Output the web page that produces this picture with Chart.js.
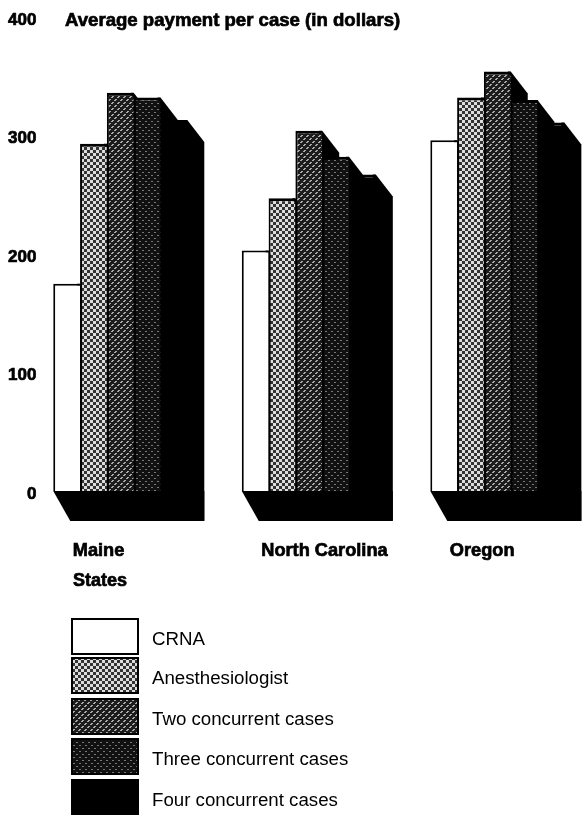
<!DOCTYPE html>
<html>
<head>
<meta charset="utf-8">
<style>
  html, body { margin: 0; padding: 0; background: #fff; overflow: hidden; width: 585px; height: 815px; }
  canvas { display: block; }
</style>
<script src="https://cdn.jsdelivr.net/npm/chart.js@4"></script>
</head>
<body>
<canvas id="chart" width="603" height="815"></canvas>
<script>
const states = ['Maine', 'North Carolina', 'Oregon'];
const crna = [175, 203, 296];
const anesthesiologist = [293, 247, 332];
const twoCases = [336, 304, 354];
const threeCases = [332, 282, 330];
const fourCases = [313, 267, 311];
const yTicks = [0, 100, 200, 300, 400];
const chartTitle = 'Average payment per case (in dollars)';
const xTitle = 'States';

// halftone fills, as in the printed figure
function pattern(size, paint) {
    const c = document.createElement('canvas');
    c.width = c.height = size;
    const g = c.getContext('2d');
    paint(g);
    return g.createPattern(c, 'repeat');
}
const lightDots = pattern(6, g => {
    g.fillStyle = '#333';
    g.fillRect(0, 0, 6, 6);
    g.fillStyle = '#ddd';
    g.fillRect(0, 0, 3, 3);
    g.fillRect(3, 3, 3, 3);
});
const hatch = pattern(6, g => {
    g.fillStyle = '#1c1c1c';
    g.fillRect(0, 0, 6, 6);
    g.fillStyle = '#aaa';
    g.fillRect(4, 0, 2, 1);
    g.fillRect(3, 1, 2, 1);
    g.fillRect(1, 3, 2, 1);
    g.fillRect(0, 4, 2, 1);
});
const darkDots = pattern(6, g => {
    g.fillStyle = '#111';
    g.fillRect(0, 0, 6, 6);
    g.fillStyle = '#777';
    g.fillRect(1, 1, 2, 1);
    g.fillRect(4, 4, 2, 1);
});

// sides and floor of the fake 3D bars, taken from the bar elements
const depth3d = {
    id: 'depth3d',
    beforeDatasetsDraw(chart) {
        const ctx = chart.ctx;
        ctx.save();
        ctx.fillStyle = '#000';
        const metas = chart.data.datasets.map((d, i) => chart.getDatasetMeta(i));
        metas.forEach(meta => meta.data.forEach(bar => {
            const r = bar.x + bar.width / 2;
            ctx.beginPath();
            ctx.moveTo(r - 3, bar.y);
            ctx.lineTo(r, bar.y);
            ctx.lineTo(r + 17, bar.y + 22);
            ctx.lineTo(r + 17, bar.base + 30);
            ctx.lineTo(r - 3, bar.base);
            ctx.fill();
        }));
        states.forEach((s, j) => {
            const a = metas[0].data[j];
            const b = metas[metas.length - 1].data[j];
            const l = a.x - a.width / 2;
            const r = b.x + b.width / 2;
            ctx.beginPath();
            ctx.moveTo(l, a.base);
            ctx.lineTo(l + 17, a.base + 30);
            ctx.lineTo(r + 17, a.base + 30);
            ctx.lineTo(r + 17, a.base);
            ctx.fill();
        });
        ctx.restore();
    }
};

// heading, x title and the stacked legend
const notes = {
    id: 'notes',
    afterDraw(chart) {
        const ctx = chart.ctx;
        ctx.save();
        ctx.fillStyle = '#000';
        ctx.strokeStyle = '#000';
        ctx.textBaseline = 'middle';
        ctx.lineWidth = 0.7;
        ctx.font = 'bold 18.6px "Liberation Sans"';
        ctx.fillText(chartTitle, 65, 21);
        ctx.strokeText(chartTitle, 65, 21);
        ctx.font = 'bold 18px "Liberation Sans"';
        ctx.fillText(xTitle, 73, 581);
        ctx.strokeText(xTitle, 73, 581);
        const rowTop = [619, 658, 699, 739, 780];
        chart.data.datasets.forEach((d, i) => {
            ctx.fillStyle = d.backgroundColor;
            ctx.fillRect(72, rowTop[i], 66, 35);
            ctx.lineWidth = 2;
            ctx.strokeRect(72, rowTop[i], 66, 35);
            ctx.fillStyle = '#000';
            ctx.font = '18.7px "Liberation Sans"';
            ctx.fillText(d.label, 152, rowTop[i] + 21);
        });
        ctx.restore();
    }
};

function series(label, data, fill, topEdge) {
    return {
        label, data,
        backgroundColor: fill,
        borderColor: '#000',
        borderWidth: { top: topEdge, left: 2, right: 0, bottom: 0 },
        categoryPercentage: 0.711,
        barPercentage: 1
    };
}

new Chart(document.getElementById('chart'), {
    type: 'bar',
    data: {
        labels: states,
        datasets: [
            series('CRNA', crna, '#fff', 2),
            series('Anesthesiologist', anesthesiologist, lightDots, 3),
            series('Two concurrent cases', twoCases, hatch, 3),
            series('Three concurrent cases', threeCases, darkDots, 3),
            series('Four concurrent cases', fourCases, '#000', 3)
        ]
    },
    options: {
        responsive: false,
        animation: false,
        devicePixelRatio: 1,
        layout: { autoPadding: false, padding: { top: 17 } },
        plugins: { legend: { display: false }, tooltip: { enabled: false } },
        scales: {
            x: {
                grid: { display: false },
                border: { display: false },
                afterFit(s) { s.height = 324; },
                ticks: {
                    color: '#000',
                    font: { family: 'Liberation Sans', size: 18.2, weight: 'bold' },
                    textStrokeColor: '#000',
                    textStrokeWidth: 0.7,
                    align: 'start',
                    labelOffset: -47.5,
                    padding: 41,
                    maxRotation: 0,
                    autoSkip: false
                }
            },
            y: {
                min: 0,
                max: 400,
                grid: { display: false },
                border: { display: false },
                afterFit(s) { s.width = 26; },
                afterBuildTicks(s) { s.ticks = yTicks.map(v => ({ value: v })); },
                ticks: {
                    color: '#000',
                    font: { family: 'Liberation Sans', size: 17, weight: 'bold' },
                    textStrokeColor: '#000',
                    textStrokeWidth: 0.7,
                    mirror: true,
                    crossAlign: 'far',
                    padding: -18,
                    labelOffset: 3
                }
            }
        }
    },
    plugins: [depth3d, notes]
});
</script>
</body>
</html>
